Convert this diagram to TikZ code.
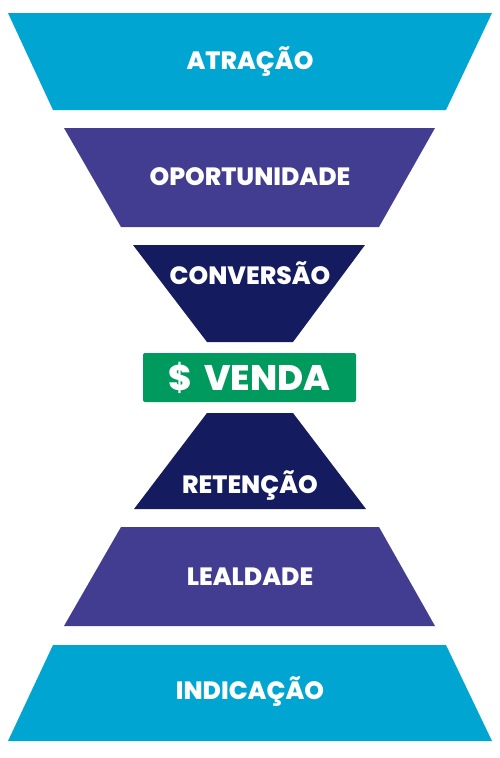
\documentclass[tikz,border=0pt]{standalone}
\usepackage{fontspec}
\setmainfont{Poppins}[BoldFont={* ExtraBold}]
\definecolor{cyanb}{HTML}{00A6D1}
\definecolor{purp}{HTML}{433D91}
\definecolor{navy}{HTML}{141B5E}
\definecolor{greenv}{HTML}{009A5E}
\begin{document}
\begin{tikzpicture}[x=1pt,y=-1pt,
  lbl/.style={text=white,font=\bfseries\fontsize{25}{25}\selectfont,inner sep=0pt,anchor=center}]
\useasboundingbox (0,0) rectangle (500,758);
\fill[white] (0,0) rectangle (500,758);
% ATRACAO
\fill[cyanb] (8,13) -- (492,13) -- (446,110) -- (53,110) -- cycle;
\node[lbl] (atr) at (250,62) {ATRAÇÃO};
% OPORTUNIDADE
\fill[purp] (64,128) -- (435,128) -- (379,227) -- (121,227) -- cycle;
\node[lbl] (opo) at (250,177) {OPORTUNIDADE};
% CONVERSAO
\fill[navy] (133,245) -- (365,245) -- (293,342) -- (207,342) -- cycle;
\node[lbl] (con) at (250,273) {CONVERSÃO};
% VENDA
\fill[greenv,rounded corners=2pt] (143,353) rectangle (356,402);
\node[lbl,font=\bfseries\fontsize{35.5}{35.5}\selectfont] (ven) at (249.5,378) {\$\,\,VENDA};
% RETENCAO
\fill[navy] (207,413) -- (293,413) -- (366,509) -- (134,509) -- cycle;
\node[lbl] (ret) at (250,486) {RETENÇÃO};
% LEALDADE
\fill[purp] (121,527) -- (379,527) -- (435,626) -- (64,626) -- cycle;
\node[lbl] (lea) at (250,577) {LEALDADE};
% INDICACAO
\fill[cyanb] (53,645) -- (446,645) -- (492,741) -- (8,741) -- cycle;
\node[lbl] (ind) at (250,692) {INDICAÇÃO};
\end{tikzpicture}
\end{document}
